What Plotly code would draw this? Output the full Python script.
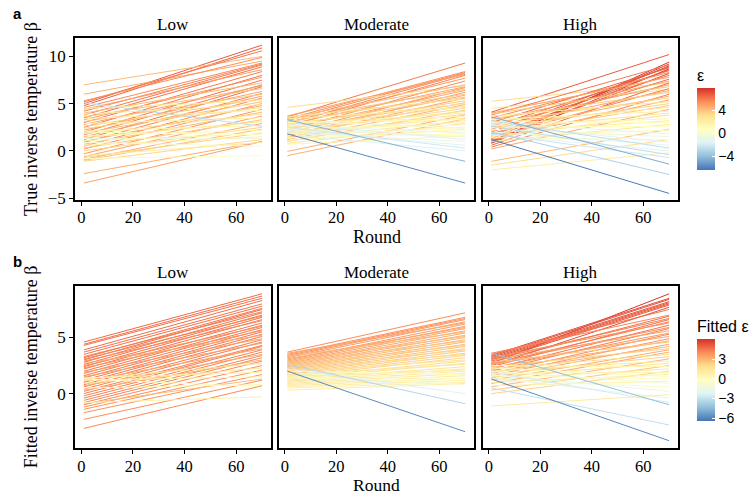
import plotly.graph_objects as go
from plotly.colors import sample_colorscale

# ---------------- data ----------------
rounds = [1, 70]
facets = ["Low", "Moderate", "High"]

# Top row: true inverse temperature (start at round 1, end at round 70, epsilon)
true_low_start = [5.0, 4.8, 7.0, 6.0, 5.2, 5.3, 4.6, 4.2, 3.8, 3.5, 4.4, 3.0, 2.5, 3.3, 2.0, 4.0, 1.7, 2.8, 1.2, 3.6,
                  2.2, 0.9, 3.1, 1.5, 0.5, 2.6, 4.5, 1.9, 0.2, 3.9, 1.0, 2.4, -0.3, 3.4, 0.7, 1.8, -0.6, 2.9, 0.3, 1.4,
                  -0.9, 2.1, 0.0, 5.1, -1.0, 1.6, 1.3, -0.7, 1.1, 0.6, -1.1, -2.4, -3.4, -0.5, -0.8, 0.9, 2.0]
true_low_end = [11.2, 10.9, 10.0, 9.5, 10.6, 9.9, 9.3, 9.2, 9.1, 8.9, 8.6, 8.4, 8.0, 7.8, 7.5, 7.2, 7.0, 6.9, 6.8, 6.6,
                6.3, 6.1, 6.0, 5.8, 5.6, 5.5, 5.3, 5.2, 5.0, 4.9, 4.8, 4.6, 4.4, 4.3, 4.1, 3.9, 3.7, 3.5, 3.3, 3.1,
                2.9, 2.7, 2.5, 2.6, 2.3, 2.2, 1.3, 1.9, 1.8, 1.5, 1.2, 1.0, 1.0, 0.9, -0.5, 0.5, 1.7]
true_low_eps = [6.8, 6.6, 4.2, 4.6, 6.0, 5.5, 5.6, 5.8, 6.0, 6.2, 5.0, 6.0, 6.1, 5.3, 6.1, 4.2, 5.9, 4.9, 6.2, 4.0,
                4.9, 5.8, 3.9, 5.0, 5.6, 3.8, 2.0, 4.1, 5.4, 2.2, 4.6, 3.2, 5.3, 2.0, 4.2, 3.1, 4.9, 1.8, 3.9, 2.8,
                4.6, 1.6, 3.5, -2.6, 4.1, 1.5, -0.8, 3.6, 1.6, 1.8, 3.4, 4.6, 5.0, 2.4, 0.4, -0.2, 0.6]

true_mod_start = [3.6, 3.4, 3.2, 2.9, 3.7, 2.6, 3.0, 4.6, 2.2, 3.5, 2.8, 1.9, 3.3, 2.4, 1.6, 3.1, 2.0, 2.7, 1.4, 3.6,
                  2.3, 1.7, 2.9, 1.2, 2.5, 3.4, 1.9, 1.0, 2.2, 2.8, 1.5, -0.05, 2.6, 1.8, -0.5, 3.0, 1.3, 2.1, 0.8, 2.4,
                  1.6, 3.2, 1.1, 2.0, 2.7, 1.4, 2.3, 0.7, 2.9, 1.9, 2.2, 2.5, 1.7, 3.3, 1.8]
true_mod_end = [9.3, 8.4, 8.3, 8.2, 8.1, 8.0, 7.7, 6.9, 7.4, 7.0, 6.8, 6.7, 6.5, 6.4, 6.2, 6.0, 5.9, 5.7, 5.6, 5.5,
                5.3, 5.1, 5.0, 4.9, 4.7, 4.6, 4.5, 4.3, 4.2, 4.0, 3.9, 3.8, 3.7, 3.5, 3.4, 3.3, 3.2, 3.0, 2.9, 2.7,
                2.5, 2.4, 2.3, 2.1, 1.9, 1.8, 1.5, 1.6, 1.2, 1.0, 0.6, 0.3, 0.0, -1.1, -3.4]
true_mod_eps = [6.0, 5.5, 5.6, 5.7, 5.0, 5.8, 5.2, 3.2, 5.6, 4.2, 4.8, 5.3, 4.0, 4.8, 5.2, 3.8, 4.6, 3.8, 4.8, 2.8,
                3.8, 4.2, 3.0, 4.4, 3.1, 2.2, 3.4, 4.1, 2.8, 2.0, 3.2, 4.6, 1.9, 2.5, 4.5, 1.2, 2.6, 1.6, 2.8, 1.0,
                1.5, -0.5, 1.8, 0.6, -0.6, 1.0, -0.8, 1.5, -1.6, -0.9, -1.5, -2.1, -1.7, -4.4, -5.8]

true_high_start = [4.1, 5.25, 4.5, 0.9, 1.0, 3.8, 1.3, 2.0, 3.0, 0.8, 1.6, 2.6, 3.5, 1.1, 2.3, 4.0, 1.8, 3.2, 0.6, 2.8,
                   3.9, 1.4, 2.5, 3.4, 0.4, 2.1, 3.0, 1.2, 3.7, 2.4, 1.7, 2.9, 0.2, 3.3, 2.2, 1.5, -1.1, 2.7, 1.9, 3.1,
                   1.0, -2.0, -1.5, 2.5, 1.6, 3.0, 2.3, 1.4, 2.8, 2.0, 3.2, 1.7, 2.6, 1.8, 3.6, 2.0, 1.2]
true_high_end = [10.2, 7.2, 6.5, 9.4, 9.2, 9.1, 9.0, 8.9, 8.8, 8.7, 8.6, 8.5, 8.3, 8.2, 8.0, 7.8, 7.6, 7.4, 7.2, 7.0,
                 6.8, 6.6, 6.4, 6.2, 6.0, 5.8, 5.6, 5.4, 5.2, 5.0, 4.8, 4.6, 4.4, 4.2, 4.0, 3.8, 2.3, 3.4, 3.2, 3.0,
                 2.8, -0.2, 1.2, 2.6, 2.2, 1.8, 1.5, 1.2, 0.9, 0.6, 0.3, 0.0, -0.4, -0.7, -1.4, -2.5, -4.5]
true_high_eps = [6.8, 3.2, 3.0, 7.8, 7.6, 6.0, 7.3, 7.0, 6.5, 7.5, 7.0, 6.5, 5.6, 7.1, 6.2, 4.8, 6.2, 5.0, 6.5, 5.1,
                 3.9, 5.7, 4.7, 3.8, 5.9, 4.5, 3.5, 4.9, 2.5, 3.5, 3.9, 2.6, 4.7, 1.8, 2.7, 3.1, 4.2, 1.5, 2.1, 0.8,
                 2.5, 2.0, 3.2, 0.8, 1.2, -0.9, -0.6, 0.2, -1.6, -1.2, -2.6, -1.4, -2.7, -2.2, -4.6, -3.2, -6.2]

# Bottom row: fitted inverse temperature
fit_low_start = [4.6, 4.4, 4.3, 3.9, 3.7, 3.5, 3.2, 3.0, 3.3, 2.8, 2.6, 3.1, 2.4, 2.2, 2.9, 2.0, 1.8, 2.5, 1.6, 1.4,
                 2.3, 1.2, 1.0, 2.7, 0.8, 1.9, 0.6, 0.4, 1.5, 0.2, 0.0, 1.1, -0.2, -0.4, 0.7, -0.6, -0.8, 0.3, -1.0, 1.3,
                 -1.2, 0.9, -1.4, 1.4, -1.7, 1.2, -0.9, -2.3, 1.3, 0.5, -3.1, -0.8]
fit_low_end = [8.9, 8.7, 8.5, 8.3, 8.0, 7.8, 7.6, 7.5, 7.3, 7.2, 7.0, 6.9, 6.8, 6.6, 6.5, 6.3, 6.1, 6.0, 5.9, 5.7,
               5.6, 5.5, 5.3, 5.2, 5.1, 4.9, 4.8, 4.6, 4.5, 4.3, 4.2, 4.0, 3.9, 3.7, 3.5, 3.4, 3.2, 3.0, 2.9, 2.7,
               2.5, 2.3, 2.1, 1.9, 1.7, 1.5, 1.3, 1.2, 0.6, 0.8, 0.7, -0.3]
fit_low_eps = [4.8, 4.7, 4.6, 4.7, 4.6, 4.6, 4.6, 4.7, 4.4, 4.6, 4.6, 4.2, 4.6, 4.6, 4.1, 4.5, 4.5, 4.0, 4.5, 4.5,
               3.9, 4.5, 4.5, 3.3, 4.5, 3.6, 4.4, 4.4, 3.6, 4.3, 4.4, 3.4, 4.3, 4.3, 3.3, 4.2, 4.2, 3.2, 4.1, 1.6,
               4.0, 1.8, 3.9, 0.8, 3.9, 0.5, 2.8, 4.0, -0.5, 0.4, 4.1, 0.8]

fit_mod_start = [3.7, 3.5, 3.4, 3.3, 3.2, 3.6, 3.0, 2.9, 3.1, 2.8, 2.7, 3.3, 2.6, 2.5, 2.9, 2.4, 2.3, 2.7, 2.2, 2.1,
                 2.5, 2.0, 1.9, 2.3, 1.8, 1.7, 2.1, 1.6, 1.5, 1.9, 1.4, 1.3, 1.7, 1.2, 1.1, 1.5, 1.0, 0.9, 2.0, 0.8,
                 0.7, 1.8, 0.6, 1.4, 0.5, 0.3, 1.6, 2.2, 2.6, 2.0]
fit_mod_end = [7.2, 6.8, 6.7, 6.6, 6.4, 6.3, 6.2, 6.0, 5.9, 5.8, 5.6, 5.5, 5.4, 5.2, 5.1, 5.0, 4.8, 4.7, 4.6, 4.4,
               4.3, 4.2, 4.0, 3.9, 3.8, 3.6, 3.5, 3.4, 3.2, 3.0, 2.9, 2.7, 2.6, 2.4, 2.2, 2.1, 2.0, 1.8, 1.7, 1.6,
               1.4, 1.3, 1.2, 1.1, 1.0, 0.9, 0.8, 0.0, -0.9, -3.4]
fit_mod_eps = [4.0, 3.9, 3.9, 3.8, 3.7, 3.4, 3.7, 3.6, 3.4, 3.5, 3.4, 2.9, 3.3, 3.2, 2.8, 3.1, 3.0, 2.6, 2.9, 2.8,
               2.4, 2.7, 2.6, 2.2, 2.5, 2.4, 2.0, 2.3, 2.2, 1.6, 2.0, 1.9, 1.4, 1.7, 1.6, 1.0, 1.4, 1.3, -0.3, 1.2,
               1.1, -0.5, 1.0, -0.3, 0.8, 0.9, -0.8, -2.2, -3.4, -5.8]

fit_high_start = [2.7, 3.4, 3.3, 3.2, 3.1, 3.0, 2.9, 2.5, 3.5, 3.6, 2.8, 3.0, 2.4, 2.6, 3.2, 2.2, 2.7, 2.0, 3.0, 2.3,
                  1.8, 2.6, 1.6, 2.1, 2.8, 1.4, 1.9, 2.4, 1.2, 0.9, 2.2, 1.7, 0.6, 2.0, 1.5, 0.3, 2.5, 1.3, 0.0, 1.8,
                  1.0, 2.3, 1.6, 0.7, 2.0, 1.2, 1.7, 1.4, 1.9, -1.1, 3.6, 0.5, 1.3]
fit_high_end = [8.9, 8.5, 8.4, 8.2, 8.1, 8.0, 7.9, 7.7, 7.5, 7.0, 6.9, 6.7, 6.6, 6.4, 6.3, 6.1, 5.9, 5.8, 5.6, 5.4,
                5.3, 5.1, 4.9, 4.7, 4.6, 4.4, 4.2, 4.0, 3.9, 3.7, 3.5, 3.3, 3.1, 2.9, 2.7, 2.5, 2.4, 2.2, 2.0, 1.9,
                1.7, 1.5, 1.3, 1.1, 0.9, 0.6, 0.2, -0.4, -0.8, -0.1, -1.0, -2.8, -4.2]
fit_high_eps = [6.0, 5.4, 5.4, 5.3, 5.3, 5.2, 5.2, 5.4, 4.6, 4.2, 4.7, 4.4, 4.7, 4.4, 3.9, 4.5, 4.0, 4.4, 3.4, 3.8,
                4.1, 3.3, 3.9, 3.2, 2.6, 3.5, 3.0, 2.3, 3.2, 3.3, 1.9, 2.2, 3.0, 1.4, 1.7, 2.6, 0.5, 1.3, 2.3, 0.4,
                1.0, -0.5, -0.2, 0.7, -1.0, -0.6, -1.4, -1.8, -2.6, 1.2, -4.2, -3.0, -5.8]

# colour scale (ColorBrewer RdYlBu, reversed)
rdylbu = [[0.0, "#4575b4"], [1 / 6, "#91bfdb"], [2 / 6, "#e0f3f8"], [0.5, "#ffffbf"],
          [4 / 6, "#fee090"], [5 / 6, "#fc8d59"], [1.0, "#d73027"]]
true_lim = [-6.4, 7.9]
fit_lim = [-6.4, 6.1]

W, H = 753, 501
SERIF = "Liberation Serif"
SANS = "Liberation Sans"

# panel pixel geometry
xpix = [(75, 271), (278.5, 474), (482.5, 678)]
ypix = [(39, 203), (290.7, 455.7)]
xrange_ = [-2.45, 73.45]
yranges = [[-5.17, 11.91], [-4.89, 9.59]]

fig = go.Figure()

panels = [
    (0, 0, true_low_start, true_low_end, true_low_eps, true_lim),
    (0, 1, true_mod_start, true_mod_end, true_mod_eps, true_lim),
    (0, 2, true_high_start, true_high_end, true_high_eps, true_lim),
    (1, 0, fit_low_start, fit_low_end, fit_low_eps, fit_lim),
    (1, 1, fit_mod_start, fit_mod_end, fit_mod_eps, fit_lim),
    (1, 2, fit_high_start, fit_high_end, fit_high_eps, fit_lim),
]

layout_axes = {}
for k, (r, c, st, en, ep, lim) in enumerate(panels):
    idx = k + 1
    xa = "x" if idx == 1 else f"x{idx}"
    ya = "y" if idx == 1 else f"y{idx}"
    for s, e, v in zip(st, en, ep):
        t = min(max((v - lim[0]) / (lim[1] - lim[0]), 0), 1)
        col = sample_colorscale(rdylbu, [t])[0]
        fig.add_trace(go.Scatter(x=rounds, y=[s, e], mode="lines",
                                 line=dict(color=col, width=1),
                                 xaxis=xa, yaxis=ya, showlegend=False, hoverinfo="skip"))
    x0, x1 = xpix[c]
    y0, y1 = ypix[r]
    axkey = "xaxis" if idx == 1 else f"xaxis{idx}"
    aykey = "yaxis" if idx == 1 else f"yaxis{idx}"
    layout_axes[axkey] = dict(
        domain=[x0 / W, x1 / W], range=xrange_, anchor=ya,
        showgrid=False, zeroline=False, showline=True, mirror=True,
        linecolor="black", linewidth=1.5,
        ticks="outside", ticklen=4, tickwidth=1.2, tickcolor="black",
        tickvals=[0, 20, 40, 60], ticklabelstandoff=-2,
        tickfont=dict(family=SERIF, size=16.5, color="black"),
    )
    layout_axes[aykey] = dict(
        domain=[1 - y1 / H, 1 - y0 / H], range=yranges[r], anchor=xa,
        showgrid=False, zeroline=False, showline=True, mirror=True,
        linecolor="black", linewidth=1.5,
        ticks="outside" if c == 0 else "", ticklen=4, tickwidth=1.2, tickcolor="black",
        tickvals=[-5, 0, 5, 10] if r == 0 else [0, 5],
        showticklabels=(c == 0),
        tickfont=dict(family=SERIF, size=17, color="black"),
    )

# dummy traces carrying the colour bars
fig.add_trace(go.Scatter(x=[-100, -100], y=[0, 0], mode="markers", xaxis="x", yaxis="y",
                         marker=dict(color=true_lim, coloraxis="coloraxis"), showlegend=False, hoverinfo="skip"))
fig.add_trace(go.Scatter(x=[-100, -100], y=[0, 0], mode="markers", xaxis="x4", yaxis="y4",
                         marker=dict(color=fit_lim, coloraxis="coloraxis2"), showlegend=False, hoverinfo="skip"))

cb_common = dict(thickness=17.5, thicknessmode="pixels", len=104, lenmode="pixels",
                 xanchor="left", yanchor="top", xpad=0, ypad=0, outlinewidth=0,
                 ticks="inside", ticklen=3, tickcolor="white", tickwidth=1,
                 tickfont=dict(family=SANS, size=14, color="black"))

annotations = []
for r in range(2):
    yc = 25 if r == 0 else 277
    for c, name in enumerate(facets):
        annotations.append(dict(text=name, x=(xpix[c][0] + xpix[c][1]) / 2 / W, y=1 - yc / H,
                                xref="paper", yref="paper", showarrow=False,
                                xanchor="center", yanchor="middle",
                                font=dict(family=SERIF, size=17, color="black")))
    ymid = (ypix[r][0] + ypix[r][1]) / 2
    annotations.append(dict(text="True inverse temperature β" if r == 0 else "Fitted inverse temperature β",
                            x=31 / W, y=1 - ymid / H, xref="paper", yref="paper", showarrow=False,
                            textangle=-90, xanchor="center", yanchor="middle",
                            font=dict(family=SERIF, size=18, color="black")))
    annotations.append(dict(text="Round", x=376.5 / W, y=1 - (240.5 if r == 0 else 492.5) / H,
                            xref="paper", yref="paper", showarrow=False,
                            xanchor="center", yanchor="middle",
                            font=dict(family=SERIF, size=18 if r == 0 else 17.5, color="black")))
    annotations.append(dict(text="<b>a</b>" if r == 0 else "<b>b</b>",
                            x=17 / W, y=1 - (14 if r == 0 else 266) / H,
                            xref="paper", yref="paper", showarrow=False,
                            xanchor="center", yanchor="middle",
                            font=dict(family=SANS, size=15, color="black")))

fig.update_layout(
    width=W, height=H, margin=dict(l=0, r=0, t=0, b=0),
    paper_bgcolor="white", plot_bgcolor="white",
    coloraxis=dict(colorscale=rdylbu, cmin=true_lim[0], cmax=true_lim[1],
                   colorbar=dict(x=697 / W, y=1 - 67 / H,
                                 tickvals=[-4, 0, 4], ticktext=["−4", "0", "4"],
                                 title=dict(text="ε", side="top", font=dict(family=SANS, size=16, color="black")),
                                 **cb_common)),
    coloraxis2=dict(colorscale=rdylbu, cmin=fit_lim[0], cmax=fit_lim[1],
                    colorbar=dict(x=697 / W, y=1 - 322 / H,
                                  tickvals=[-6, -3, 0, 3], ticktext=["−6", "−3", "0", "3"],
                                  title=dict(text="Fitted ε", side="top", font=dict(family=SANS, size=16, color="black")),
                                  **cb_common)),
    annotations=annotations,
    **layout_axes,
)

fig.write_html("out.html")
